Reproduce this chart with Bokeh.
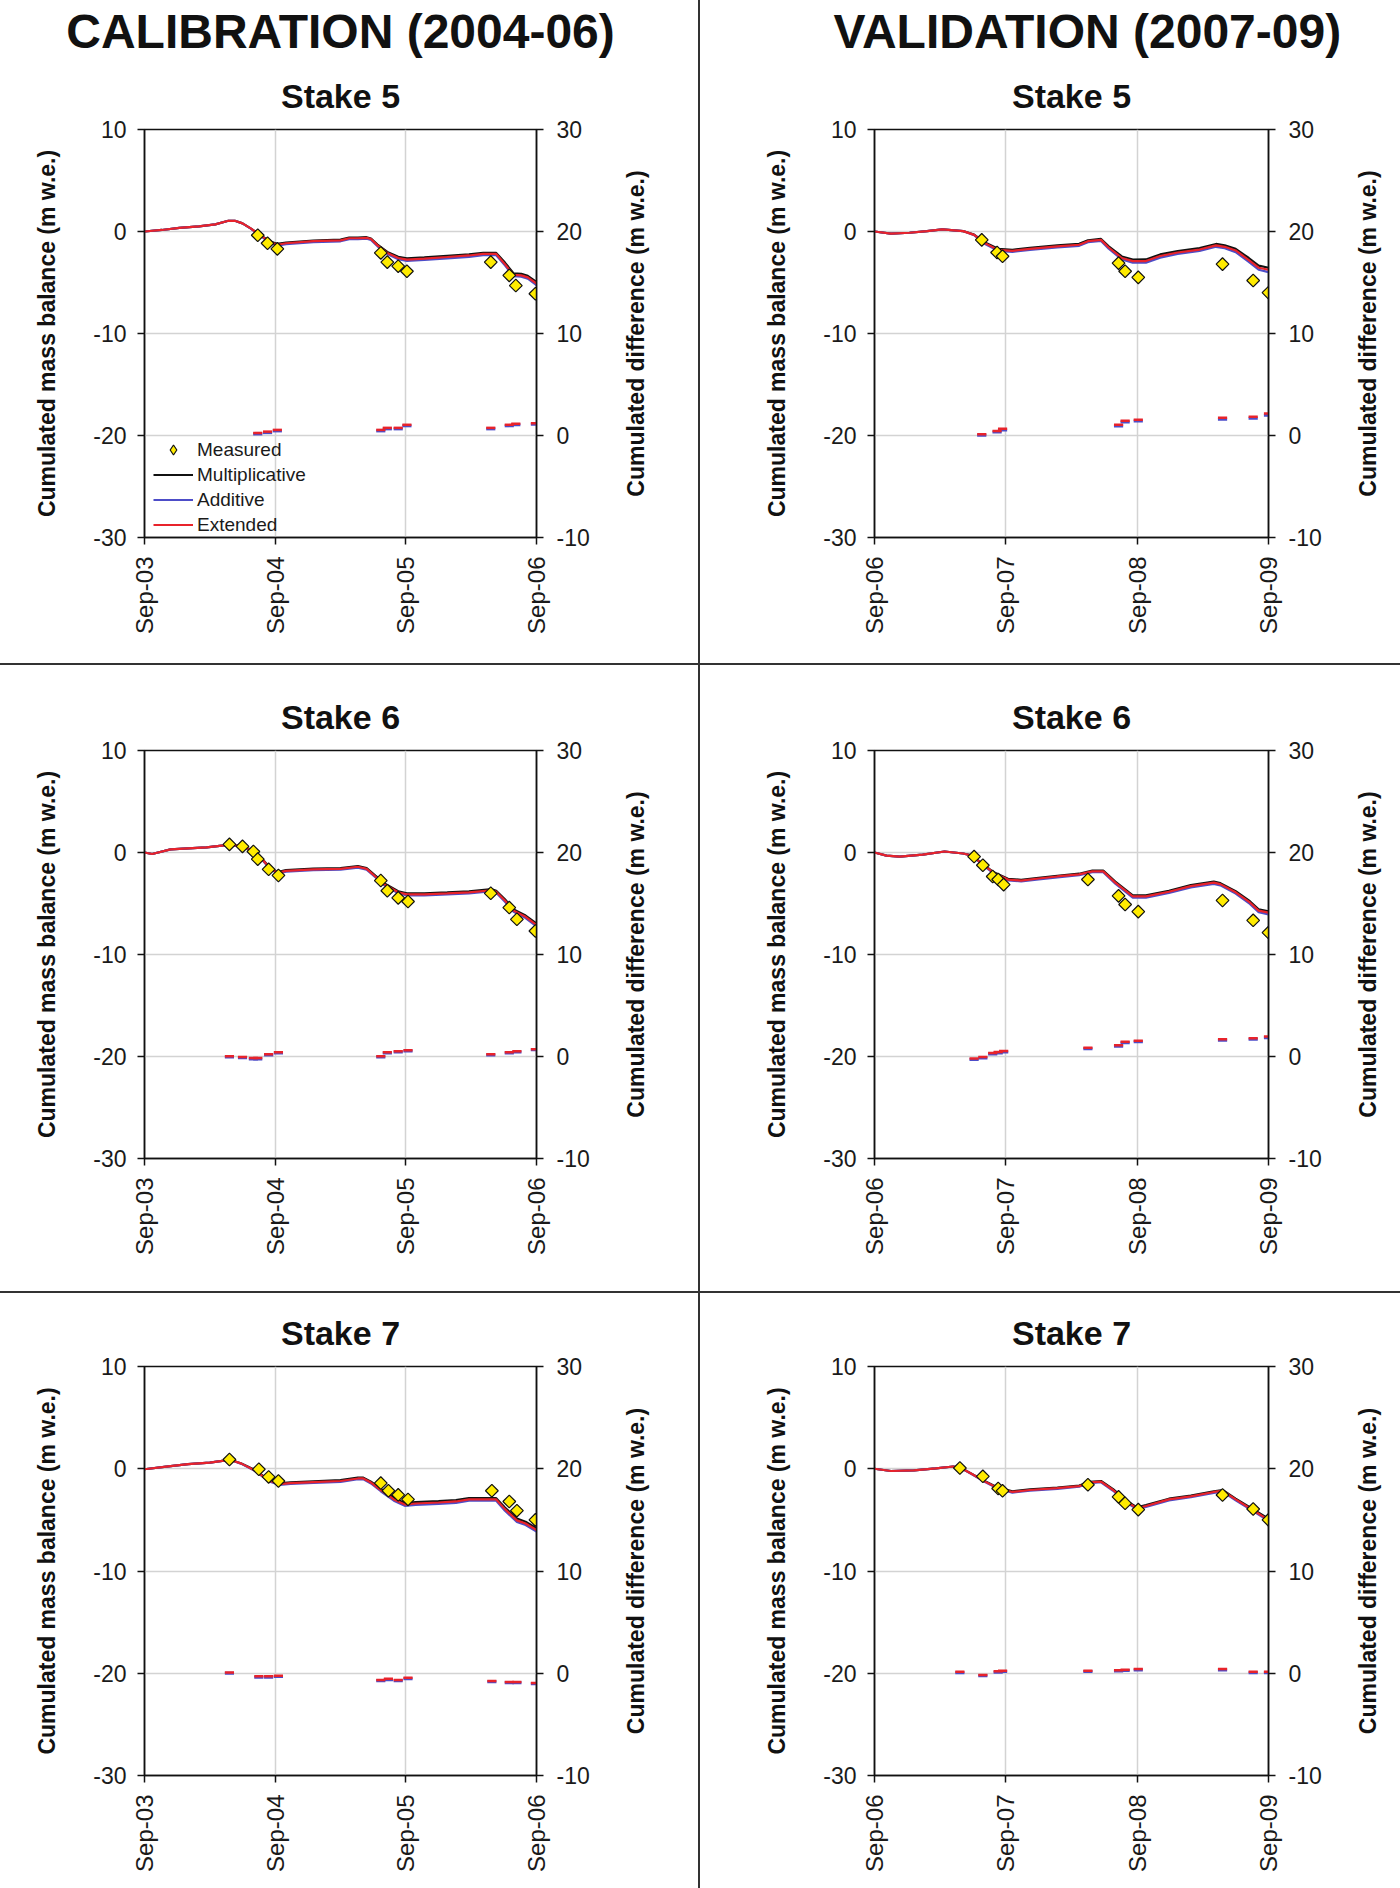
import math
from bokeh.plotting import figure
from bokeh.models import (Range1d, LinearAxis, FixedTicker, Title, Legend,
                          LegendItem, Div, Label)
from bokeh.layouts import row, column
from bokeh.embed import file_html
from bokeh.resources import INLINE

FONT = "Liberation Sans"

# ---------------- text ----------------
COL_TITLES = ["CALIBRATION (2004-06)", "VALIDATION (2007-09)"]
STAKE_TITLES = ["Stake 5", "Stake 6", "Stake 7"]
TICK_MONTHS = [0, 12, 24, 36]
CAL_TICK_LABELS = ["Sep-03", "Sep-04", "Sep-05", "Sep-06"]
VAL_TICK_LABELS = ["Sep-06", "Sep-07", "Sep-08", "Sep-09"]
Y_LEFT_TICKS = [-30, -20, -10, 0, 10]
Y_LEFT_LABELS = ["-30", "-20", "-10", "0", "10"]
Y_RIGHT_TICKS = [-10, 0, 10, 20, 30]
Y_RIGHT_LABELS = ["-10", "0", "10", "20", "30"]
Y_LABEL_LEFT = "Cumulated mass balance (m w.e.)"
Y_LABEL_RIGHT = "Cumulated difference (m w.e.)"
SERIES_NAMES = ["Measured", "Multiplicative", "Additive", "Extended"]

# ---------------- data (x in months since September of first year) --------
# Calibration, stake 5
C5_T = [0, 1.6, 3.2, 5, 6.5, 7.7, 8.3, 9.0, 9.75, 10.6, 11.4, 12.2, 13, 15.5, 18, 18.8, 19.6,
        20.4, 20.8, 21.4, 22.3, 23.3, 24.1, 25.7, 27.8, 29.8, 31.1, 32.3, 33.1, 33.9, 34.6, 35.2, 36]
C5_EXT = [0, 0.15, 0.35, 0.5, 0.7, 1.05, 1.05, 0.8, 0.3, -0.33, -0.95, -1.3, -1.15, -0.95, -0.87,
          -0.66, -0.66, -0.62, -0.74, -1.36, -2.1, -2.6, -2.75, -2.65, -2.5, -2.35, -2.2, -2.2,
          -3.2, -4.25, -4.3, -4.5, -5.1]
C5_MULT = [0, 0.15, 0.35, 0.5, 0.7, 1.05, 1.05, 0.8, 0.3, -0.3, -0.9, -1.22, -1.08, -0.88, -0.8,
           -0.6, -0.6, -0.56, -0.68, -1.28, -2.0, -2.48, -2.62, -2.53, -2.38, -2.24, -2.1, -2.1,
           -3.05, -4.1, -4.15, -4.35, -4.95]
C5_ADD = [0, 0.15, 0.35, 0.5, 0.7, 1.05, 1.05, 0.8, 0.28, -0.38, -1.02, -1.38, -1.24, -1.04, -0.96,
          -0.75, -0.75, -0.71, -0.83, -1.45, -2.2, -2.72, -2.88, -2.78, -2.63, -2.48, -2.33, -2.33,
          -3.32, -4.38, -4.43, -4.63, -5.25]
C5_MEAS_T = [10.4, 11.3, 12.2, 21.7, 22.3, 23.3, 24.1, 31.8, 33.5, 34.1, 35.9]
C5_MEAS = [-0.37, -1.15, -1.7, -2.1, -3.0, -3.4, -3.9, -3.0, -4.3, -5.3, -6.1]
C5_DIFF_EXT = [0.25, 0.38, 0.55, 0.55, 0.75, 0.75, 1.05, 0.75, 1.05, 1.15, 1.2]
C5_DIFF_ADD = [0.15, 0.28, 0.45, 0.45, 0.65, 0.65, 0.95, 0.65, 0.95, 1.05, 1.1]

# Calibration, stake 6
C6_T = [0, 0.7, 2.4, 4, 5.7, 7.3, 7.8, 8.9, 10, 10.6, 11.4, 12.2, 13, 15.5, 18, 19.6, 20.4, 21.2,
        22, 23.3, 24.1, 25.7, 27.8, 29.8, 31.9, 32.3, 33.1, 33.9, 35, 36]
C6_EXT = [0, -0.15, 0.3, 0.4, 0.5, 0.7, 0.8, 0.6, 0.2, -0.4, -1.4, -2.0, -1.8, -1.65, -1.6, -1.4,
          -1.6, -2.35, -3.1, -3.9, -4.1, -4.1, -4.0, -3.9, -3.7, -3.85, -4.7, -5.7, -6.3, -7.1]
C6_MULT = [0, -0.15, 0.3, 0.4, 0.5, 0.7, 0.8, 0.6, 0.22, -0.36, -1.34, -1.93, -1.73, -1.58, -1.53,
           -1.33, -1.53, -2.27, -3.0, -3.8, -4.0, -4.0, -3.9, -3.8, -3.6, -3.75, -4.58, -5.58,
           -6.18, -6.95]
C6_ADD = [0, -0.15, 0.3, 0.4, 0.5, 0.7, 0.8, 0.58, 0.17, -0.45, -1.47, -2.08, -1.88, -1.73, -1.68,
          -1.48, -1.68, -2.43, -3.2, -4.0, -4.2, -4.2, -4.1, -4.0, -3.8, -3.95, -4.82, -5.82,
          -6.43, -7.25]
C6_MEAS_T = [7.8, 9.0, 10.0, 10.4, 11.4, 12.3, 21.7, 22.3, 23.3, 24.2, 31.8, 33.5, 34.2, 35.9]
C6_MEAS = [0.8, 0.6, 0.1, -0.65, -1.65, -2.25, -2.75, -3.75, -4.45, -4.8, -4.0, -5.4, -6.55, -7.7]
C6_DIFF_EXT = [0.02, -0.05, -0.15, -0.15, 0.22, 0.42, 0.02, 0.42, 0.52, 0.62, 0.22, 0.42, 0.52, 0.72]
C6_DIFF_ADD = [-0.05, -0.12, -0.25, -0.25, 0.15, 0.35, -0.05, 0.35, 0.45, 0.55, 0.15, 0.35, 0.45, 0.65]

# Calibration, stake 7
C7_T = [0, 2, 4, 6, 7.3, 7.8, 8.9, 10.2, 11.4, 12.4, 13.4, 15.5, 18, 19.6, 20.1, 20.8, 21.7, 22.9,
        23.9, 24.9, 27, 28.6, 29.8, 32.3, 33.1, 34.2, 35, 36]
C7_EXT = [-0.05, 0.2, 0.45, 0.6, 0.8, 0.9, 0.5, -0.2, -1.15, -1.5, -1.4, -1.3, -1.2, -0.95, -0.95,
          -1.35, -2.1, -3.0, -3.5, -3.4, -3.3, -3.2, -3.0, -3.0, -3.95, -5.05, -5.35, -6.0]
C7_MULT = [-0.05, 0.2, 0.45, 0.6, 0.8, 0.9, 0.52, -0.15, -1.08, -1.42, -1.32, -1.22, -1.12, -0.87,
           -0.87, -1.26, -1.98, -2.86, -3.36, -3.27, -3.17, -3.07, -2.88, -2.88, -3.8, -4.88,
           -5.18, -5.82]
C7_ADD = [-0.05, 0.2, 0.45, 0.6, 0.8, 0.9, 0.48, -0.25, -1.22, -1.58, -1.48, -1.38, -1.28, -1.03,
          -1.03, -1.44, -2.2, -3.12, -3.63, -3.53, -3.43, -3.33, -3.13, -3.13, -4.1, -5.2, -5.5,
          -6.15]
C7_MEAS_T = [7.8, 10.5, 11.4, 12.3, 21.7, 22.4, 23.3, 24.2, 31.9, 33.5, 34.2, 35.9]
C7_MEAS = [0.9, -0.05, -0.8, -1.2, -1.4, -2.15, -2.55, -3.0, -2.15, -3.2, -4.1, -5.0]
C7_DIFF_EXT = [0.08, -0.3, -0.3, -0.25, -0.65, -0.55, -0.65, -0.45, -0.75, -0.85, -0.85, -0.95]
C7_DIFF_ADD = [0.0, -0.38, -0.38, -0.33, -0.73, -0.63, -0.73, -0.53, -0.83, -0.93, -0.93, -1.03]

# Validation, stake 5
V5_T = [0, 1.5, 3.2, 4.8, 6.2, 8.1, 9.1, 10.1, 11.3, 12.6, 14.2, 16.7, 18.7, 19.5, 20.7, 21.4,
        22.6, 23.6, 24.8, 26.1, 27.7, 29.7, 31.2, 32, 33, 34.2, 35.1, 36]
V5_EXT = [0, -0.2, -0.12, 0.04, 0.2, 0.04, -0.33, -1.15, -1.8, -1.9, -1.7, -1.45, -1.3, -0.95,
          -0.82, -1.57, -2.6, -2.9, -2.9, -2.4, -2.06, -1.77, -1.36, -1.5, -1.86, -2.8, -3.55, -3.75]
V5_MULT = [0, -0.2, -0.12, 0.04, 0.2, 0.04, -0.3, -1.08, -1.7, -1.8, -1.6, -1.35, -1.2, -0.86,
           -0.73, -1.45, -2.45, -2.75, -2.74, -2.25, -1.92, -1.63, -1.22, -1.36, -1.7, -2.6,
           -3.35, -3.55]
V5_ADD = [0, -0.2, -0.12, 0.04, 0.2, 0.04, -0.36, -1.22, -1.9, -2.0, -1.8, -1.55, -1.4, -1.05,
          -0.92, -1.68, -2.74, -3.05, -3.05, -2.56, -2.2, -1.9, -1.5, -1.64, -2.02, -2.98, -3.75,
          -3.98]
V5_MEAS_T = [9.8, 11.2, 11.7, 22.3, 22.9, 24.1, 31.8, 34.6, 36.0]
V5_MEAS = [-0.82, -2.06, -2.43, -3.1, -3.9, -4.5, -3.2, -4.8, -6.0]
V5_DIFF_EXT = [0.12, 0.45, 0.65, 1.05, 1.45, 1.55, 1.75, 1.85, 2.15]
V5_DIFF_ADD = [0.02, 0.35, 0.55, 0.92, 1.32, 1.42, 1.6, 1.7, 1.98]

# Validation, stake 6
V6_T = [0, 1.1, 2.3, 4.4, 6.4, 8.1, 8.9, 9.7, 10.9, 12.2, 13.4, 15, 16.7, 18.7, 19.9, 20.9, 22,
        23.6, 24.8, 26.9, 28.9, 31, 31.6, 33, 34.3, 35.1, 36]
V6_EXT = [0, -0.3, -0.4, -0.2, 0.1, -0.1, -0.3, -1.0, -2.0, -2.65, -2.75, -2.55, -2.35, -2.15,
          -1.85, -1.85, -2.95, -4.3, -4.3, -3.85, -3.3, -2.95, -3.1, -3.9, -4.9, -5.7, -5.9]
V6_MULT = [0, -0.3, -0.4, -0.2, 0.1, -0.1, -0.28, -0.96, -1.94, -2.58, -2.68, -2.48, -2.28, -2.08,
           -1.78, -1.78, -2.86, -4.2, -4.2, -3.75, -3.2, -2.85, -3.0, -3.8, -4.78, -5.56, -5.76]
V6_ADD = [0, -0.3, -0.4, -0.2, 0.1, -0.1, -0.32, -1.05, -2.07, -2.73, -2.83, -2.63, -2.43, -2.23,
          -1.93, -1.93, -3.05, -4.42, -4.42, -3.96, -3.42, -3.07, -3.22, -4.02, -5.04, -5.85, -6.06]
V6_MEAS_T = [9.1, 9.9, 10.8, 11.3, 11.8, 19.5, 22.3, 22.9, 24.1, 31.8, 34.6, 36.0]
V6_MEAS = [-0.4, -1.25, -2.35, -2.65, -3.15, -2.65, -4.25, -5.1, -5.8, -4.7, -6.65, -7.85]
V6_DIFF_EXT = [-0.2, -0.05, 0.35, 0.45, 0.55, 0.85, 1.1, 1.45, 1.55, 1.7, 1.8, 1.95]
V6_DIFF_ADD = [-0.3, -0.15, 0.25, 0.35, 0.45, 0.75, 1.0, 1.35, 1.45, 1.6, 1.7, 1.85]

# Validation, stake 7
V7_T = [0, 1.5, 3.6, 5.6, 7.2, 7.9, 8.9, 10.1, 11.3, 12.6, 14.2, 16.7, 18.7, 19.7, 20.7, 21.8,
        23, 24, 24.8, 26.9, 28.9, 31, 31.8, 33, 34.7, 36]
V7_EXT = [0, -0.22, -0.15, 0.04, 0.22, 0.07, -0.52, -1.26, -1.9, -2.27, -2.08, -1.9, -1.7, -1.34,
          -1.26, -2.08, -3.2, -3.87, -3.64, -3.0, -2.7, -2.27, -2.15, -3.0, -4.13, -5.0]
V7_MULT = [0, -0.22, -0.15, 0.04, 0.22, 0.07, -0.5, -1.22, -1.85, -2.21, -2.02, -1.84, -1.64,
           -1.28, -1.2, -2.0, -3.12, -3.78, -3.56, -2.93, -2.63, -2.2, -2.08, -2.92, -4.04, -4.9]
V7_ADD = [0, -0.22, -0.15, 0.04, 0.22, 0.07, -0.54, -1.3, -1.96, -2.33, -2.14, -1.96, -1.76, -1.4,
          -1.32, -2.15, -3.28, -3.96, -3.73, -3.09, -2.79, -2.36, -2.24, -3.08, -4.22, -5.1]
V7_MEAS_T = [7.8, 9.9, 11.3, 11.7, 19.5, 22.3, 22.9, 24.1, 31.8, 34.6, 36.0]
V7_MEAS = [0.07, -0.74, -1.93, -2.16, -1.56, -2.75, -3.38, -4.0, -2.57, -3.94, -5.0]
V7_DIFF_EXT = [0.14, -0.16, 0.19, 0.24, 0.24, 0.29, 0.34, 0.41, 0.41, 0.14, 0.14]
V7_DIFF_ADD = [0.06, -0.24, 0.11, 0.16, 0.16, 0.21, 0.26, 0.33, 0.33, 0.06, 0.06]

# ---------------- styling ----------------
BLACK = "#111111"
BLUE = "#4d4dc8"
RED = "#e8232b"
YELLOW = "#ffeb00"
GRID = "#d3d3d3"
DIVIDER = "#333333"
DASH_HALF = 0.42  # half length (months) of the difference dashes

COL_W = [698, 700]
DIV_W = 2
ROW_H = [663, 626, 595]
FRAME_LEFT = [144, 174]
FRAME_W = [392, 394]
FRAME_TOP = [129, 85, 73]
FRAME_H = [408, 408, 409]
RIGHT_LABEL_X = 43        # px from the right axis panel's outer edge to the label centre
COL_TITLE_LEFT = [None, -41]  # left offset of the column title (None = centred)


def make_panel(r, c, t, mult, add, ext, mt, mv, dext, dadd, tick_labels, legend=False):
    w, h = COL_W[c], ROW_H[r]
    p = figure(width=w, height=h, output_backend="svg", toolbar_location=None,
               x_range=Range1d(0, 36), y_range=Range1d(-30, 10), title=None)
    p.min_border_left = FRAME_LEFT[c]
    p.min_border_right = w - FRAME_LEFT[c] - FRAME_W[c]
    p.min_border_top = FRAME_TOP[r]
    p.min_border_bottom = h - FRAME_TOP[r] - FRAME_H[r]
    p.background_fill_color = "white"
    p.border_fill_color = "white"
    p.outline_line_color = BLACK
    p.outline_line_width = 1.5
    p.extra_y_ranges = {"diff": Range1d(-10, 30)}

    # grid
    p.xgrid.ticker = FixedTicker(ticks=TICK_MONTHS)
    p.ygrid.ticker = FixedTicker(ticks=Y_LEFT_TICKS)
    for g in (p.xgrid, p.ygrid):
        g.grid_line_color = GRID
        g.grid_line_width = 1.5

    # x axis
    xa = p.xaxis[0]
    xa.ticker = FixedTicker(ticks=TICK_MONTHS)
    xa.major_label_overrides = {m: lab for m, lab in zip(TICK_MONTHS, tick_labels)}
    xa.major_label_orientation = math.pi / 2
    xa.major_label_standoff = 12

    # left axis
    ya = p.yaxis[0]
    ya.ticker = FixedTicker(ticks=Y_LEFT_TICKS)
    ya.major_label_overrides = {v: lab for v, lab in zip(Y_LEFT_TICKS, Y_LEFT_LABELS)}
    ya.axis_label = Y_LABEL_LEFT
    ya.major_label_standoff = 11
    ya.axis_label_standoff = 30

    # right axis (its title is drawn as a label so it reads bottom-to-top)
    ra = LinearAxis(y_range_name="diff", ticker=FixedTicker(ticks=Y_RIGHT_TICKS))
    ra.major_label_overrides = {v: lab for v, lab in zip(Y_RIGHT_TICKS, Y_RIGHT_LABELS)}
    ra.major_label_standoff = 13
    p.add_layout(ra, "right")

    for ax in (xa, ya, ra):
        ax.axis_line_color = BLACK
        ax.axis_line_width = 1.5
        ax.major_tick_line_color = BLACK
        ax.major_tick_line_width = 1.5
        ax.major_tick_in = 0
        ax.major_tick_out = 7
        ax.minor_tick_line_color = None
        ax.major_label_text_font = FONT
        ax.major_label_text_font_size = "23px"
        ax.major_label_text_color = "#1a1a1a"
        ax.axis_label_text_font = FONT
        ax.axis_label_text_font_size = "23px"
        ax.axis_label_text_font_style = "bold"
        ax.axis_label_text_color = BLACK
    xa.major_label_text_font_size = "24px"

    rlab = Label(x=RIGHT_LABEL_X, y=FRAME_H[r] / 2,
                 x_units="screen", y_units="screen", angle=math.pi / 2,
                 text=Y_LABEL_RIGHT, text_align="center", text_baseline="middle",
                 text_font=FONT, text_font_size="23px", text_font_style="bold",
                 text_color=BLACK)
    p.add_layout(rlab, "right")

    # difference dashes (right axis)
    x0 = [m - DASH_HALF for m in mt]
    x1 = [m + DASH_HALF for m in mt]
    p.segment(x0, dadd, x1, dadd, line_color=BLUE, line_width=3, y_range_name="diff")
    p.segment(x0, dext, x1, dext, line_color=RED, line_width=2.5, y_range_name="diff")

    # model lines
    lm = p.line(t, mult, line_color=BLACK, line_width=2.2)
    la = p.line(t, add, line_color=BLUE, line_width=2.2)
    le = p.line(t, ext, line_color=RED, line_width=2.2)

    # measurements (diamonds)
    p.scatter(mt, mv, marker="square", angle=math.pi / 4, size=9,
              fill_color=YELLOW, line_color=BLACK, line_width=1.2)

    # titles (first added sits closest to the frame)
    p.add_layout(Title(text=STAKE_TITLES[r], align="center", text_font=FONT,
                       text_font_size="34px", text_font_style="bold",
                       text_color=BLACK, standoff=30), "above")
    if r == 0:
        left = COL_TITLE_LEFT[c]
        p.add_layout(Title(text=COL_TITLES[c],
                           align=("center" if left is None else "left"),
                           offset=(0 if left is None else left),
                           text_font=FONT, text_font_size="48px",
                           text_font_style="bold", text_color=BLACK,
                           standoff=4), "above")

    if legend:
        # hidden diamond renderer used only for the legend symbol
        sm_leg = p.scatter(mt, mv, marker="diamond", size=14, fill_color=YELLOW,
                           line_color=BLACK, line_width=1.2, visible=False)
        items = [LegendItem(label=SERIES_NAMES[0], renderers=[sm_leg]),
                 LegendItem(label=SERIES_NAMES[1], renderers=[lm]),
                 LegendItem(label=SERIES_NAMES[2], renderers=[la]),
                 LegendItem(label=SERIES_NAMES[3], renderers=[le])]
        lg = Legend(items=items, location=(9, 0), margin=0, padding=0, spacing=0,
                    glyph_width=40, glyph_height=25, label_height=25,
                    label_standoff=4, label_text_font=FONT,
                    label_text_font_size="19px", label_text_color="#1a1a1a",
                    background_fill_alpha=0, border_line_alpha=0,
                    inactive_fill_alpha=0)
        p.add_layout(lg)
    return p


panels = [
    (C5_T, C5_MULT, C5_ADD, C5_EXT, C5_MEAS_T, C5_MEAS, C5_DIFF_EXT, C5_DIFF_ADD),
    (V5_T, V5_MULT, V5_ADD, V5_EXT, V5_MEAS_T, V5_MEAS, V5_DIFF_EXT, V5_DIFF_ADD),
    (C6_T, C6_MULT, C6_ADD, C6_EXT, C6_MEAS_T, C6_MEAS, C6_DIFF_EXT, C6_DIFF_ADD),
    (V6_T, V6_MULT, V6_ADD, V6_EXT, V6_MEAS_T, V6_MEAS, V6_DIFF_EXT, V6_DIFF_ADD),
    (C7_T, C7_MULT, C7_ADD, C7_EXT, C7_MEAS_T, C7_MEAS, C7_DIFF_EXT, C7_DIFF_ADD),
    (V7_T, V7_MULT, V7_ADD, V7_EXT, V7_MEAS_T, V7_MEAS, V7_DIFF_EXT, V7_DIFF_ADD),
]

rows = []
for r in range(3):
    figs = []
    for c in range(2):
        d = panels[r * 2 + c]
        labels = CAL_TICK_LABELS if c == 0 else VAL_TICK_LABELS
        figs.append(make_panel(r, c, *d, labels, legend=(r == 0 and c == 0)))
    vdiv = Div(width=DIV_W, height=ROW_H[r], margin=0,
               styles={"background-color": DIVIDER})
    rows.append(row(figs[0], vdiv, figs[1], spacing=0))
    if r < 2:
        rows.append(Div(width=COL_W[0] + DIV_W + COL_W[1], height=DIV_W, margin=0,
                        styles={"background-color": DIVIDER}))

layout = column(*rows, spacing=0)

open("out.html", "w").write(file_html(layout, INLINE))
